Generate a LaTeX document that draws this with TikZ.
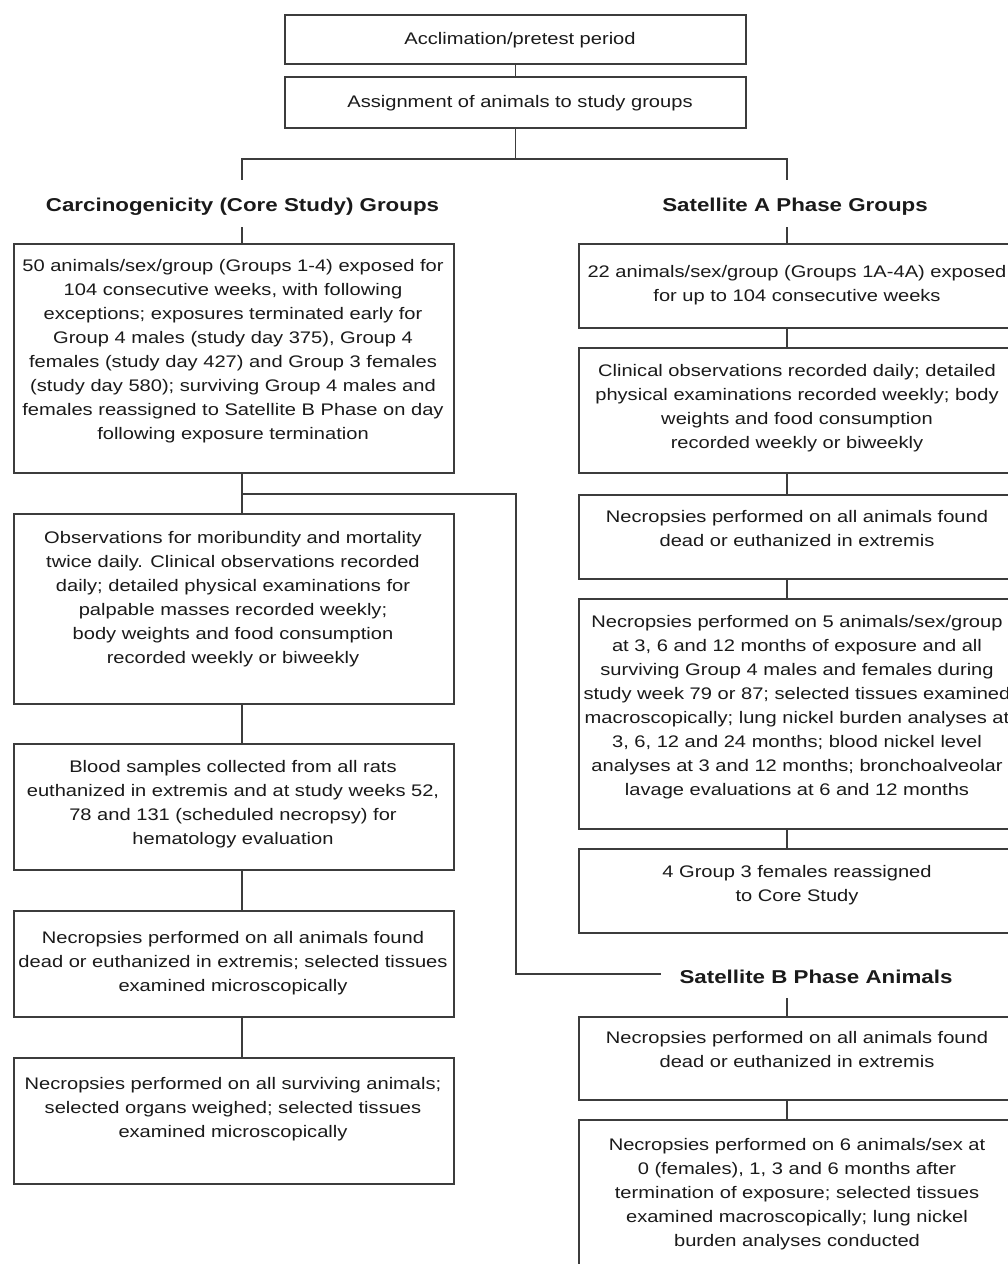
\documentclass[tikz,border=0pt]{standalone}
\usepackage{fontspec}
\setmainfont{Liberation Sans}[FakeStretch=1.2]
\definecolor{ink}{HTML}{1A1A1A}
\definecolor{edgecol}{HTML}{3C3C3C}
\tikzset{
  box/.style={draw=edgecol, line width=1.7pt, inner sep=0pt, anchor=north west},
  txt/.style={inner sep=0pt, align=center, anchor=north, text=ink,
              font=\fontsize{16.75}{24}\selectfont},
  ttl/.style={inner xsep=18pt, inner ysep=0pt, anchor=base, text=ink,
              font=\fontsize{18.6}{24}\selectfont\bfseries, text height=31pt, text depth=16pt},
  conn/.style={draw=edgecol, line width=1.4pt}
}
\begin{document}
\begin{tikzpicture}[x=1pt,y=-1pt]
\useasboundingbox (0,0) rectangle (1008,1264);
\clip (0,0) rectangle (1008,1264);
\fill[white] (0,0) rectangle (1008,1264);

% column line positions
\coordinate (cl) at (242,0);
\coordinate (cr) at (787,0);

% top boxes
\node[box, minimum width=461pt, minimum height=49pt] (A1) at (284,14) {};
\node[box, minimum width=461pt, minimum height=51pt] (A2) at (284,76) {};
\node[txt] (A1t) at (520,27.2) {\strut Acclimation/pretest period};
\node[txt] (A2t) at (520,90.2) {\strut Assignment of animals to study groups};

% titles
\node[ttl] (TL) at (242.5,211) {Carcinogenicity (Core Study) Groups};
\node[ttl] (TA) at (795,211) {Satellite A Phase Groups};
\node[ttl, text height=33pt, text depth=15pt] (TB) at (816,983) {Satellite B Phase Animals};

% left column boxes
\node[box, minimum width=440pt, minimum height=229pt] (L1) at (13,243) {};
\node[box, minimum width=440pt, minimum height=190pt] (L2) at (13,513) {};
\node[box, minimum width=440pt, minimum height=126pt] (L3) at (13,743) {};
\node[box, minimum width=440pt, minimum height=106pt] (L4) at (13,910) {};
\node[box, minimum width=440pt, minimum height=126pt] (L5) at (13,1057) {};

\node[txt] (L1t) at (233,254.2) {\strut 50 animals/sex/group (Groups 1-4) exposed for\\
104 consecutive weeks, with following\\
exceptions; exposures terminated early for\\
Group 4 males (study day 375), Group 4\\
females (study day 427) and Group 3 females\\
(study day 580); surviving Group 4 males and\\
females reassigned to Satellite B Phase on day\\
following exposure termination};
\node[txt] (L2t) at (233,526.2) {\strut Observations for moribundity and mortality\\
twice daily. Clinical observations recorded\\
daily; detailed physical examinations for\\
palpable masses recorded weekly;\\
body weights and food consumption\\
recorded weekly or biweekly};
\node[txt] (L3t) at (233,755.2) {\strut Blood samples collected from all rats\\
euthanized in extremis and at study weeks 52,\\
78 and 131 (scheduled necropsy) for\\
hematology evaluation};
\node[txt] (L4t) at (233,926.2) {\strut Necropsies performed on all animals found\\
dead or euthanized in extremis; selected tissues\\
examined microscopically};
\node[txt] (L5t) at (233,1072.2) {\strut Necropsies performed on all surviving animals;\\
selected organs weighed; selected tissues\\
examined microscopically};

% right column boxes
\node[box, minimum width=440pt, minimum height=84pt] (R1) at (578,243) {};
\node[box, minimum width=440pt, minimum height=125pt] (R2) at (578,347) {};
\node[box, minimum width=440pt, minimum height=84pt] (R3) at (578,494) {};
\node[box, minimum width=440pt, minimum height=230pt] (R4) at (578,598) {};
\node[box, minimum width=440pt, minimum height=84pt] (R5) at (578,848) {};
\node[box, minimum width=440pt, minimum height=83pt] (RB1) at (578,1016) {};
\node[box, minimum width=440pt, minimum height=180pt] (RB2) at (578,1119) {};

\node[txt] (R1t) at (797,260.2) {\strut 22 animals/sex/group (Groups 1A-4A) exposed\\
for up to 104 consecutive weeks};
\node[txt] (R2t) at (797,359.2) {\strut Clinical observations recorded daily; detailed\\
physical examinations recorded weekly; body\\
weights and food consumption\\
recorded weekly or biweekly};
\node[txt] (R3t) at (797,505.2) {\strut Necropsies performed on all animals found\\
dead or euthanized in extremis};
\node[txt] (R4t) at (797,610.2) {\strut Necropsies performed on 5 animals/sex/group\\
at 3, 6 and 12 months of exposure and all\\
surviving Group 4 males and females during\\
study week 79 or 87; selected tissues examined\\
macroscopically; lung nickel burden analyses at\\
3, 6, 12 and 24 months; blood nickel level\\
analyses at 3 and 12 months; bronchoalveolar\\
lavage evaluations at 6 and 12 months};
\node[txt] (R5t) at (797,860.2) {\strut 4 Group 3 females reassigned\\
to Core Study};
\node[txt] (RB1t) at (797,1026.2) {\strut Necropsies performed on all animals found\\
dead or euthanized in extremis};
\node[txt] (RB2t) at (797,1133.2) {\strut Necropsies performed on 6 animals/sex at\\
0 (females), 1, 3 and 6 months after\\
termination of exposure; selected tissues\\
examined macroscopically; lung nickel\\
burden analyses conducted};

% connectors
\coordinate (hub) at (A2.south |- 0,159);
\draw[conn] (A1.south) -- (A2.north);
\draw[conn] (A2.south) -- (hub);
\draw[conn] (TL.north -| cl) |- (hub) -| (TA.north -| cr);

\draw[conn] (TL.south -| cl) -- (L1.north -| cl);
\draw[conn] (L1.south -| cl) -- (L2.north -| cl);
\draw[conn] (L2.south -| cl) -- (L3.north -| cl);
\draw[conn] (L3.south -| cl) -- (L4.north -| cl);
\draw[conn] (L4.south -| cl) -- (L5.north -| cl);

\coordinate (br) at (242,494);
\coordinate (brk) at (516,974);
\draw[conn] (br) -| (brk) -- (brk -| TB.west);

\draw[conn] (TA.south -| cr) -- (R1.north -| cr);
\draw[conn] (R1.south -| cr) -- (R2.north -| cr);
\draw[conn] (R2.south -| cr) -- (R3.north -| cr);
\draw[conn] (R3.south -| cr) -- (R4.north -| cr);
\draw[conn] (R4.south -| cr) -- (R5.north -| cr);
\draw[conn] (TB.south -| cr) -- (RB1.north -| cr);
\draw[conn] (RB1.south -| cr) -- (RB2.north -| cr);
\end{tikzpicture}
\end{document}
